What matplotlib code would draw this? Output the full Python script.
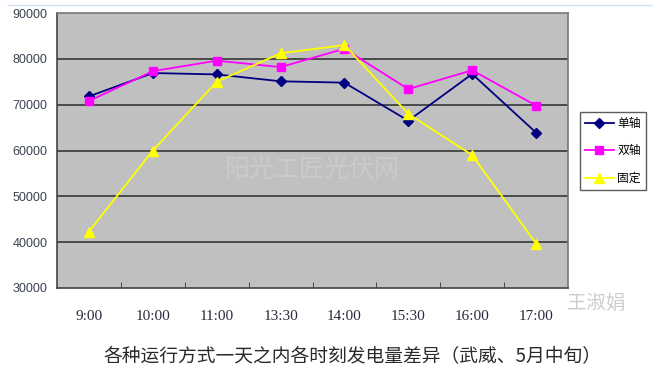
import matplotlib
matplotlib.use("Agg")
import matplotlib.pyplot as plt
import numpy as np
from matplotlib.lines import Line2D

categories = ["9:00", "10:00", "11:00", "13:30", "14:00", "15:30", "16:00", "17:00"]
single_axis = [71800, 76900, 76600, 75100, 74800, 66500, 76700, 63900]
dual_axis = [70800, 77300, 79600, 78200, 82200, 73400, 77500, 69800]
fixed = [42300, 60000, 75000, 81200, 83000, 68000, 59000, 39700]
series_names = ["单轴", "双轴", "固定"]
yticks = [30000, 40000, 50000, 60000, 70000, 80000, 90000]
title = "各种运行方式一天之内各时刻发电量差异（武威、5月中旬）"

plt.rcParams['font.family'] = ['Noto Sans CJK SC', 'DejaVu Sans']

fig = plt.figure(figsize=(6.53, 3.80), dpi=100)
ax = fig.add_axes([57/653, 1-288/380, (568-57)/653, (288-13)/380])
ax.set_facecolor("#c0c0c0")

x = np.arange(len(categories))
ax.plot(x, single_axis, color="#000080", marker="D", markersize=5, lw=1.3, zorder=4)
ax.plot(x, dual_axis, color="#ff00ff", marker="s", markersize=6, lw=1.3, zorder=4)
ax.plot(x, fixed, color="#ffff00", marker="^", markersize=7, lw=1.3, zorder=4)

ax.set_xlim(-0.5, len(categories) - 0.5)
ax.set_ylim(30000, 90000)
ax.set_yticks(yticks)
ax.set_yticklabels([str(v) for v in yticks], family=['Liberation Sans', 'DejaVu Sans'],
                   fontsize=9, color="#3a4250")
for v in yticks[1:-1]:
    ax.axhline(v, color="#2a2a2a", lw=1.1, zorder=2)
ax.tick_params(axis='y', length=0, pad=7)

ax.set_xticks(x)
ax.set_xticklabels(categories, family=['Liberation Serif', 'DejaVu Serif'], fontsize=11, color="#2a2a3a")
ax.tick_params(axis='x', length=0, pad=16)
ax.set_xticks(np.arange(0.5, len(categories) - 0.5, 1), minor=True)
ax.tick_params(axis='x', which='minor', direction='in', length=4, color="#333333")

for s in ["left", "bottom"]:
    ax.spines[s].set_color("#444444")
    ax.spines[s].set_linewidth(1.2)
for s in ["top", "right"]:
    ax.spines[s].set_color("#777777")
    ax.spines[s].set_linewidth(1.2)

handles = [
    Line2D([], [], color="#000080", marker="D", markersize=5, lw=1.3),
    Line2D([], [], color="#ff00ff", marker="s", markersize=6, lw=1.3),
    Line2D([], [], color="#ffff00", marker="^", markersize=7, lw=1.3),
]
leg = fig.legend(handles, series_names, loc="upper left", bbox_to_anchor=(580/653, 1-112/380),
                 frameon=True, fancybox=False, fontsize=8.5, handlelength=2.4, handletextpad=0.3,
                 borderpad=0.45, labelspacing=1.2, borderaxespad=0)
leg.get_frame().set_edgecolor("#333333")
leg.get_frame().set_linewidth(1.0)

# watermarks
ax.text(0.5, 1-(170-13)/275, "阳光工匠光伏网", transform=ax.transAxes, ha="center", va="center",
        fontsize=18, color="#cbcbcb", zorder=1)
fig.text(567/653, 1-303/380, "王淑娟", ha="left", va="center", fontsize=14, color="#cdcdcd")

fig.text(352/653, 1-357/380, title, ha="center", va="center", fontsize=13.5, color="#2a2a2a")

fig.add_artist(Line2D([8/653, 1], [1-5/380, 1-5/380], color="#cfe0f0", lw=1))

fig.savefig("out.png", dpi=100)
